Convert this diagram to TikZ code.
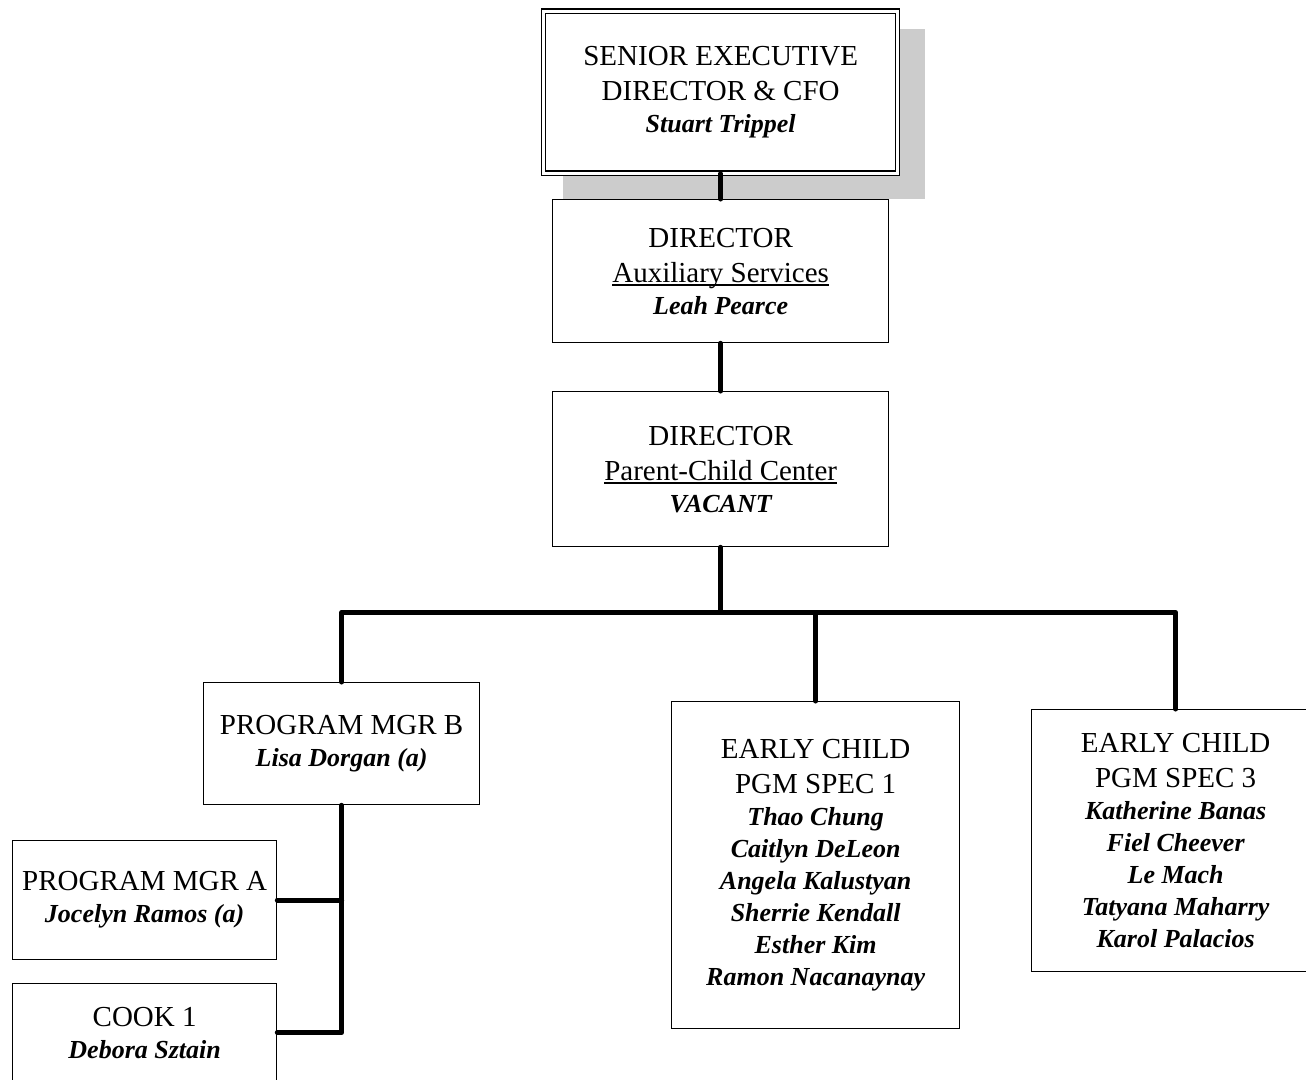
\documentclass[tikz,border=0pt]{standalone}
\usepackage{fontspec}
\setmainfont{Liberation Serif}
\newcommand\myul[1]{\leavevmode\setbox0\hbox{#1}\rlap{\rule[-3.5pt]{\wd0}{1.4pt}}\box0}
\newcommand\nm[1]{{\fontsize{26}{32}\selectfont\bfseries\itshape #1}}
\begin{document}
\begin{tikzpicture}[x=1pt,y=-1pt,
  box/.style={draw,line width=1.3pt,fill=white,inner sep=0pt,align=center,anchor=north west,font=\fontsize{29}{35}\selectfont},
  dbox/.style={box,double,double distance=3pt},
  conn/.style={line width=5pt,line cap=round,line join=round}]
\useasboundingbox (0,0) rectangle (1306,1079);
\clip (0,0) rectangle (1306,1079);
% shadow of top box
\fill[gray!40] (563,29) rectangle (925,199);
% boxes
\node[dbox,minimum width=354pt,minimum height=162pt] (top) at (543,10.5)
  {SENIOR EXECUTIVE\\DIRECTOR \& CFO\\[-3pt]\nm{Stuart Trippel}};
\node[box,minimum width=336pt,minimum height=143pt] (dir1) at (552,199)
  {DIRECTOR\\\myul{Auxiliary Services}\\[-3pt]\nm{Leah Pearce}};
\node[box,minimum width=336pt,minimum height=155pt] (dir2) at (552,391)
  {DIRECTOR\\\myul{Parent-Child Center}\\[-3pt]\nm{VACANT}};
\node[box,minimum width=276pt,minimum height=122pt] (pgmB) at (203,682)
  {PROGRAM MGR B\\[-3pt]\nm{Lisa Dorgan (a)}};
\node[box,minimum width=264pt,minimum height=119pt] (pgmA) at (12,840)
  {PROGRAM MGR A\\[-3pt]\nm{Jocelyn Ramos (a)}};
\node[box,minimum width=264pt,minimum height=98pt] (cook) at (12,983)
  {COOK 1\\[-3pt]\nm{Debora Sztain}};
\node[box,minimum width=288pt,minimum height=327pt] (spec1) at (671,701)
  {EARLY CHILD\\PGM SPEC 1\\[-3pt]\nm{Thao Chung}\\[-3pt]\nm{Caitlyn DeLeon}\\[-3pt]\nm{Angela Kalustyan}\\[-3pt]\nm{Sherrie Kendall}\\[-3pt]\nm{Esther Kim}\\[-3pt]\nm{Ramon Nacanaynay}};
\node[box,minimum width=288pt,minimum height=262pt] (spec3) at (1031,709)
  {EARLY CHILD\\PGM SPEC 3\\[-3pt]\nm{Katherine Banas}\\[-3pt]\nm{Fiel Cheever}\\[-3pt]\nm{Le Mach}\\[-3pt]\nm{Tatyana Maharry}\\[-3pt]\nm{Karol Palacios}};
% connectors
\path (dir2.south) ++(0,65) coordinate (bus);
\draw[conn] (top.south -| dir1.north) -- (dir1.north);
\draw[conn] (dir1.south) -- (dir2.north);
\draw[conn] (dir2.south) -- (bus);
\draw[conn] (pgmB.north) |- (bus) -| (spec3.north);
\draw[conn] (bus) -| (spec1.north);
\draw[conn] (pgmB.south) |- (cook.east);
\draw[conn] (pgmB.south |- pgmA.east) -- (pgmA.east);
\end{tikzpicture}
\end{document}
